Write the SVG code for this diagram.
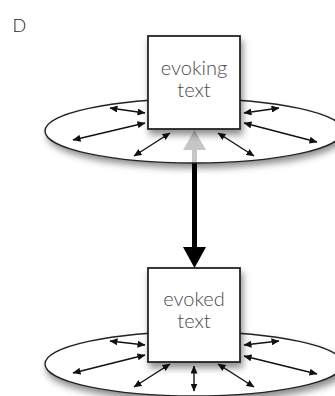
<svg xmlns="http://www.w3.org/2000/svg" width="335" height="396" viewBox="0 0 335 396">
<defs>
<filter id="sh" x="-20%" y="-20%" width="140%" height="170%">
<feDropShadow dx="2" dy="5" stdDeviation="3.5" flood-color="#000" flood-opacity="0.45"/>
</filter>
<marker id="ah" viewBox="0 0 8 7" refX="7.5" refY="3.5" markerWidth="8" markerHeight="7" markerUnits="userSpaceOnUse" orient="auto-start-reverse">
<path d="M0,0 L8,3.5 L0,7 Z" fill="#111"/>
</marker>
</defs>
<style>
.ell{stroke:#222;stroke-width:1.4}
.box{fill:#fff;stroke:#222;stroke-width:1.8}
.sm{stroke:#111;stroke-width:1.4;fill:none;marker-start:url(#ah);marker-end:url(#ah)}
.lbl{font-family:Lato,"Open Sans",sans-serif;font-weight:300;font-size:20px;fill:#4a4a4a;text-anchor:middle}
</style>
<text x="12.5" y="32" style="font-family:Lato,'Open Sans',sans-serif;font-weight:300;font-size:18px;fill:#222">D</text>
<ellipse cx="194" cy="131" rx="149" ry="32" fill="#fff" filter="url(#sh)"/>
<g id="connectors">
<line x1="194.5" y1="149" x2="194.5" y2="248" stroke="#000" stroke-width="5"/>
<path d="M194.5,130 L183,150 L206,150 Z" fill="#000"/>
<path d="M183,247 L206,247 L194.5,268 Z" fill="#000"/>
</g>
<g id="evoking-ring">
<ellipse class="ell" cx="194" cy="131" rx="149" ry="32" fill="#fff" fill-opacity="0.78"/>
<line class="sm" x1="110" y1="108" x2="145" y2="113"/>
<line class="sm" x1="73" y1="140" x2="145" y2="123"/>
<line class="sm" x1="134" y1="156" x2="170" y2="133"/>
<line class="sm" x1="218" y1="133" x2="254" y2="156"/>
<line class="sm" x1="244" y1="123" x2="317" y2="142"/>
<line class="sm" x1="244" y1="113" x2="279" y2="108"/>
</g>
<g id="evoking">
<rect class="box" x="148" y="36" width="92" height="93" filter="url(#sh)"/>
<text class="lbl" x="194" y="75">evoking</text>
<text class="lbl" x="194" y="97">text</text>
</g>
<g id="evoked-ring">
<ellipse class="ell" cx="194" cy="364" rx="149" ry="32" fill="#fff" filter="url(#sh)"/>
<line class="sm" x1="110" y1="341" x2="145" y2="345"/>
<line class="sm" x1="73" y1="373" x2="145" y2="355"/>
<line class="sm" x1="134" y1="387" x2="170" y2="364"/>
<line class="sm" x1="194" y1="366" x2="194" y2="391"/>
<line class="sm" x1="218" y1="364" x2="254" y2="387"/>
<line class="sm" x1="244" y1="356" x2="317" y2="374"/>
<line class="sm" x1="244" y1="345" x2="279" y2="341"/>
</g>
<g id="evoked">
<rect class="box" x="148" y="268" width="92" height="94" filter="url(#sh)"/>
<text class="lbl" x="194" y="306">evoked</text>
<text class="lbl" x="194" y="328">text</text>
</g>
</svg>
